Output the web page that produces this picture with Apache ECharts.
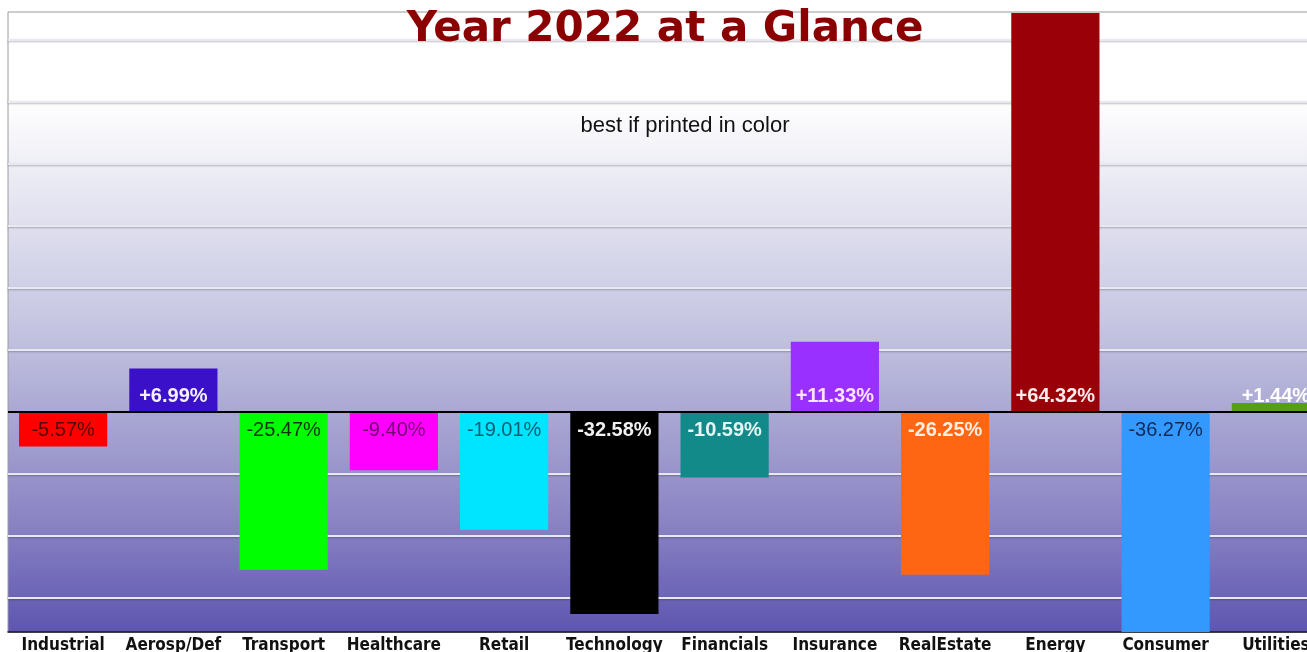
<!DOCTYPE html>
<html>
<head>
<meta charset="utf-8">
<script src="https://cdn.jsdelivr.net/npm/echarts@6/dist/echarts.min.js"></script>
<style>
html,body{margin:0;padding:0;background:#ffffff;overflow:hidden;}
#chart{width:1307px;height:652px;}
</style>
</head>
<body>
<div id="chart"></div>
<script>
const categories = ['Industrial','Aerosp/Def','Transport','Healthcare','Retail','Technology','Financials','Insurance','RealEstate','Energy','Consumer','Utilities'];
const changes = [-5.57, 6.99, -25.47, -9.40, -19.01, -32.58, -10.59, 11.33, -26.25, 64.32, -36.27, 1.44];
const gridTicks = [60, 50, 40, 30, 20, 10, -10, -20, -30];
const axisMin = -35.5;
const axisMax = 64.5;

const barColors = ['#ff0000','#3a10c8','#00ff00','#ff00ff','#00e5ff','#000000','#128a8a','#9a30ff','#ff6614','#990008','#3399ff','#54a010'];
const labelColors = ['#5a0000','#f4f0ff','#063306','#700070','#005f70','#f0f0f0','#e4f6f4','#ffe4ff','#ffeede','#ffecec','#102a5a','#ffffff'];

const chart = echarts.init(document.getElementById('chart'));

const barData = changes.map((v, i) => ({
  value: v,
  itemStyle: { color: barColors[i] },
  label: {
    position: v >= 0 ? 'insideBottom' : 'insideTop',
    distance: v >= 0 ? 5 : 9,
    color: labelColors[i],
    fontWeight: (labelColors[i].charAt(1) === 'f' || labelColors[i].charAt(1) === 'e') ? 'bold' : 'normal'
  }
}));

chart.setOption({
  animation: false,
  title: [
    {
      text: 'Year 2022 at a Glance',
      left: 660, top: 4, textAlign: 'center',
      textStyle: { fontFamily: 'DejaVu Sans', fontWeight: 'bold', fontSize: 42, color: '#8b0000' }
    },
    {
      text: 'best if printed in color',
      left: 680, top: 110, textAlign: 'center',
      textStyle: { fontFamily: 'Liberation Sans, Arial, sans-serif', fontWeight: 'normal', fontSize: 22, color: '#111111' }
    }
  ],
  grid: {
    left: 8, width: 1323, top: 12, bottom: 20,
    outerBoundsMode: 'none',
    containLabel: false,
    show: true,
    borderColor: '#9a9a9a', borderWidth: 1,
    backgroundColor: {
      type: 'linear', x: 0, y: 0, x2: 0, y2: 1,
      colorStops: [
        { offset: 0, color: '#ffffff' },
        { offset: 0.14, color: '#ffffff' },
        { offset: 0.30, color: '#e6e6f2' },
        { offset: 0.50, color: '#c6c6e2' },
        { offset: 0.645, color: '#aaa8d3' },
        { offset: 0.82, color: '#8a84c4' },
        { offset: 1, color: '#5e55b0' }
      ]
    }
  },
  xAxis: {
    type: 'category',
    data: categories,
    axisLine: { onZero: false, lineStyle: { color: '#111111', width: 1.5 } },
    axisTick: { show: false },
    axisLabel: {
      interval: 0, margin: 5,
      fontFamily: "'Liberation Sans Narrow', 'DejaVu Sans Condensed', sans-serif",
      fontWeight: 'bold', fontSize: 17, color: '#111111'
    }
  },
  yAxis: {
    type: 'value',
    min: axisMin, max: axisMax,
    axisLine: { show: false },
    axisTick: { show: false },
    axisLabel: { show: false },
    splitLine: { show: false }
  },
  series: [
    {
      type: 'line',
      data: [],
      z: 1,
      silent: true,
      markLine: {
        z: 1,
        silent: true,
        symbol: 'none',
        label: { show: false },
        lineStyle: { type: 'solid', color: '#e8e8f0', width: 2, shadowColor: 'rgba(0,0,0,0.25)', shadowBlur: 2, shadowOffsetY: 1 },
        data: gridTicks.map(t => ({ yAxis: t }))
      }
    },
    {
      type: 'bar',
      z: 3,
      barWidth: '80%',
      clip: true,
      data: barData,
      label: {
        show: true,
        fontFamily: 'Liberation Sans, Arial, sans-serif',
        fontSize: 20,
        formatter: p => (p.value > 0 ? '+' : '') + p.value.toFixed(2) + '%'
      },
      markLine: {
        z: 6,
        silent: true,
        symbol: 'none',
        label: { show: false },
        lineStyle: { type: 'solid', color: '#000000', width: 2 },
        data: [{ yAxis: 0 }]
      }
    }
  ]
});
</script>
</body>
</html>
